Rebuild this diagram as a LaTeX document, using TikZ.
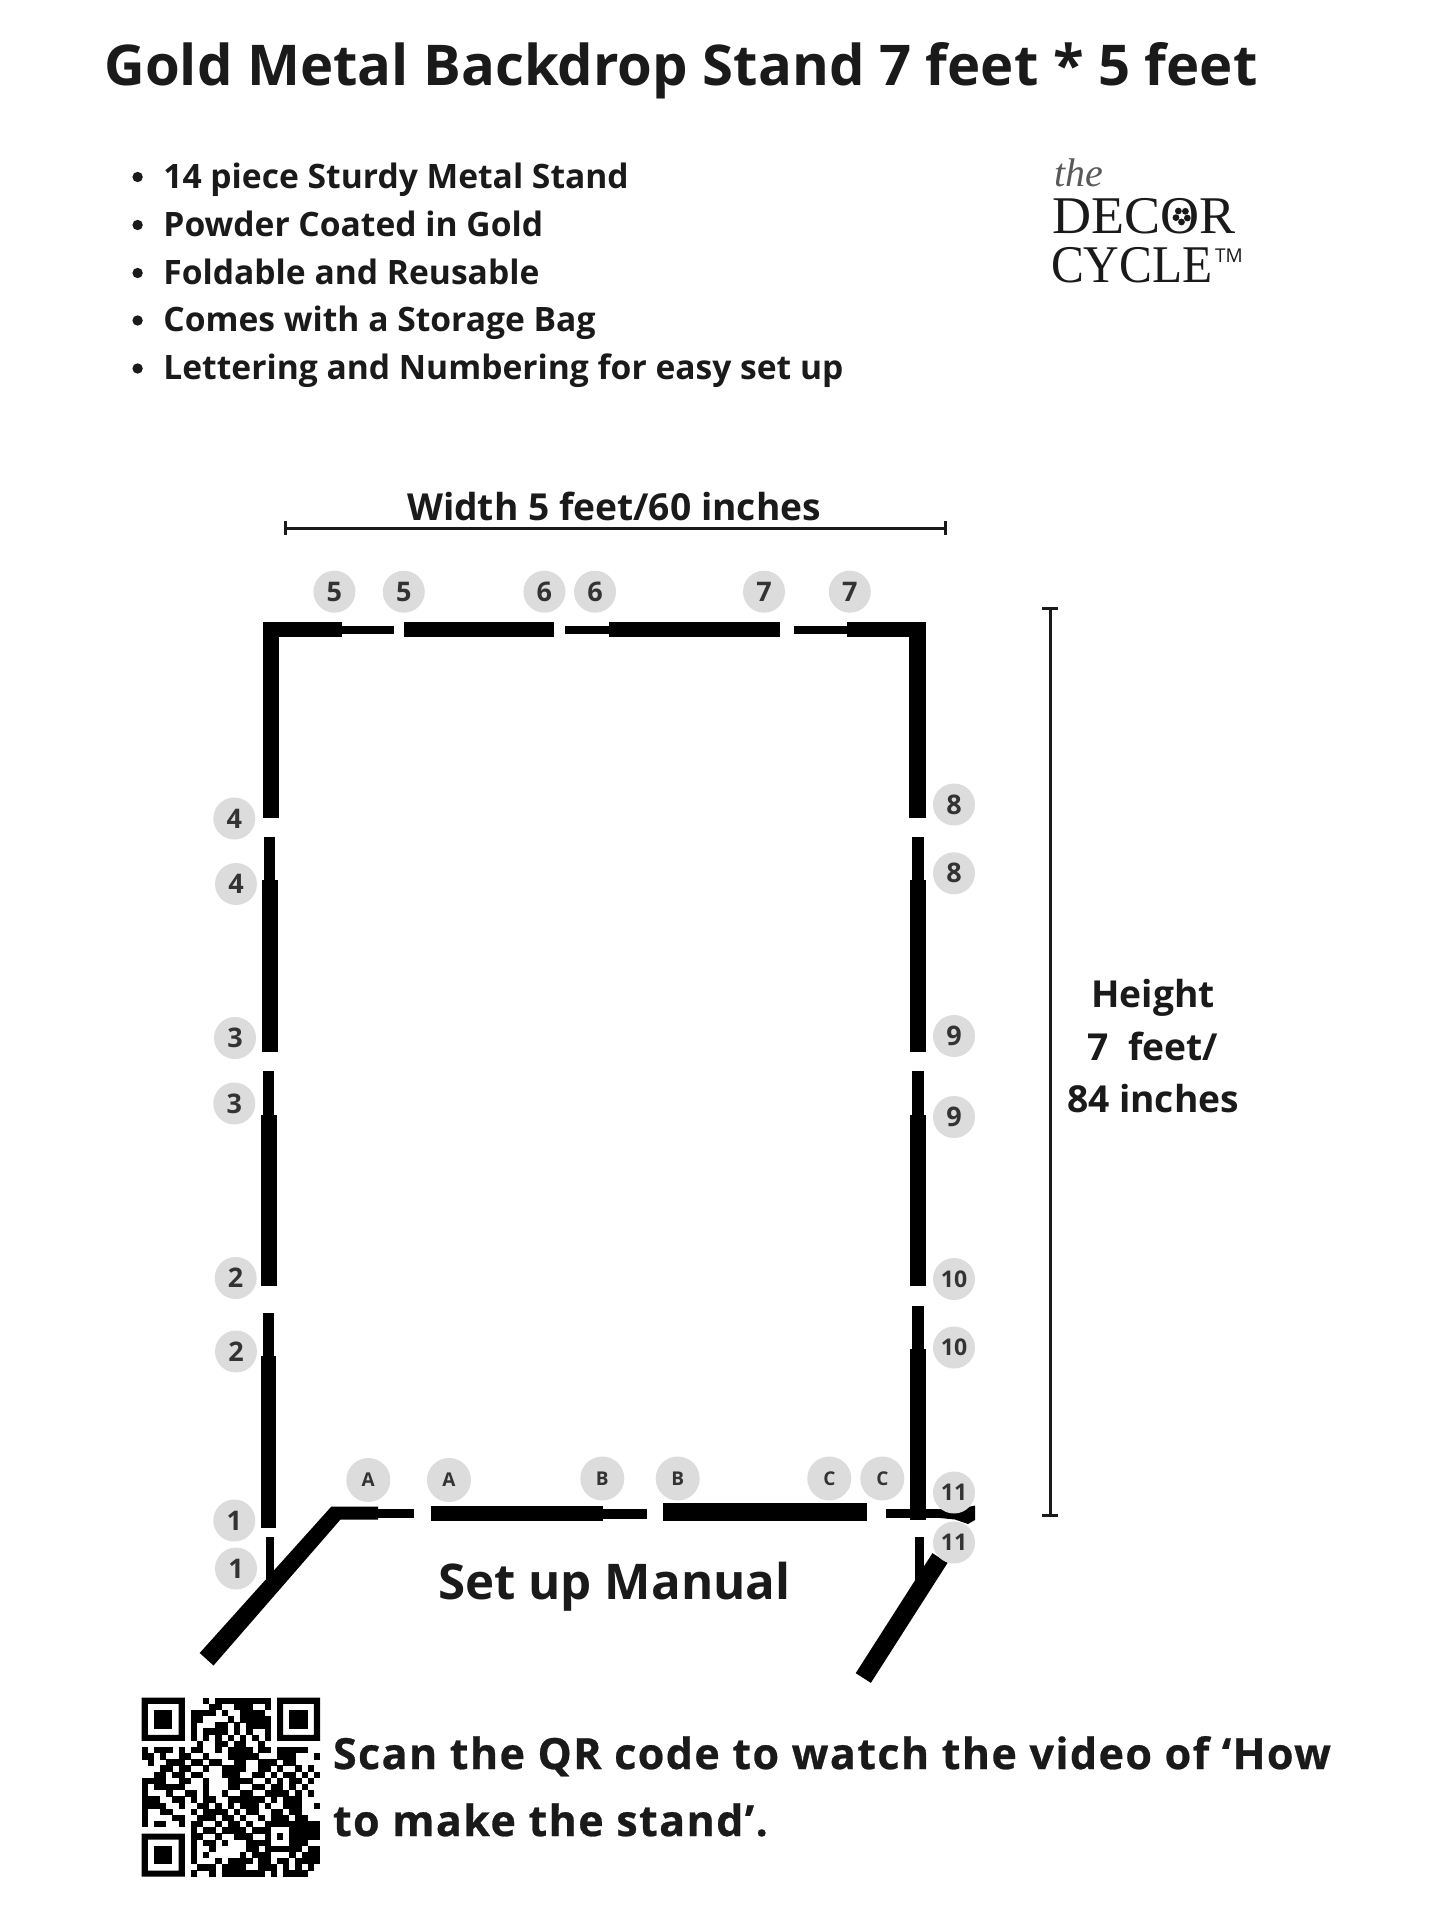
\documentclass[tikz,border=0pt]{standalone}
\usepackage{fontspec}
\setmainfont{Open Sans}
\newfontfamily\logofont{Liberation Serif}
\usetikzlibrary{calc}
\definecolor{ink}{HTML}{1A1A1A}
\definecolor{badgegray}{HTML}{DCDCDC}
\definecolor{badgeink}{HTML}{333333}
\tikzset{
  txt/.style={inner sep=0pt,outer sep=0pt,text=ink,font=\bfseries},
  badge/.style={circle,fill=badgegray,inner sep=0pt,minimum size=21pt,text=badgeink,font=\bfseries\fontsize{13.5}{14}\selectfont},
  badgeS/.style={badge,font=\bfseries\fontsize{11.5}{12}\selectfont},
  badgeL/.style={badge,minimum size=22pt,font=\bfseries\fontsize{9.5}{10}\selectfont},
  dim/.style={line width=1.5pt,draw=ink},
  bar/.style={fill=black},
  logo/.style={inner sep=0pt,outer sep=0pt,text=ink},
  bigtxt/.style={txt,font=\bfseries\fontsize{18.6}{20}\selectfont}
}
\newcommand{\seg}[4]{\fill[bar] (#1,#2) rectangle (#3,#4);}
\newcommand{\qrrow}[2]{\foreach \c in {#2} {\fill[black] ($(141.7,1697.7)+(\c*6.15-0.1,#1*6.17-0.1)$) rectangle ++(6.35,6.37);}}
\newcommand{\qrfinder}[2]{%
  \fill[black,even odd rule] (#1,#2) rectangle ++(43.05,43.2) ($(#1,#2)+(6.15,6.17)$) rectangle ++(30.75,30.86);
  \fill[black] ($(#1,#2)+(12.3,12.34)$) rectangle ++(18.45,18.5);}
\begin{document}
\begin{tikzpicture}[x=0.5pt,y=-0.5pt]
\useasboundingbox (0,0) rectangle (1445,1927);
\fill[white] (0,0) rectangle (1445,1927);

% title
\node[txt,anchor=base west,font=\bfseries\fontsize{28.1}{30}\selectfont] (title) at (104.5,85) {Gold Metal Backdrop Stand 7 feet * 5 feet};

% bullets
\foreach \n/\y/\t in {a/188/14 piece Sturdy Metal Stand,b/236/Powder Coated in Gold,c/284/Foldable and Reusable,d/331.5/Comes with a Storage Bag,e/379.5/Lettering and Numbering for easy set up}{
  \fill[ink] (137.6,\y-11) circle[radius=2.6pt];
  \node[txt,anchor=base west,font=\bfseries\fontsize{16.8}{18}\selectfont] (bul\n) at (163.4,\y) {\t};
}

% logo
\node[logo,anchor=base west,font=\logofont\itshape\fontsize{20}{22}\selectfont,text=black!65] (logothe) at (1054,186) {the};
\node[logo,anchor=base west,font=\logofont\fontsize{26.5}{28}\selectfont] (logodecor) at (1052,233) {\scalebox{1.02}[1]{DECOR}};
\node[logo,anchor=base west,font=\logofont\fontsize{26.5}{28}\selectfont] (logocycle) at (1051,282) {\scalebox{0.93}[1]{CYCLE}};
\node[logo,anchor=base west,font=\fontsize{9.5}{10}\selectfont] (logotm) at (1215,262) {TM};
\foreach \a in {20,92,164,236,308}{\fill[ink] (1181.7,216)+(\a:6) circle[radius=1.7pt];}

% dimensions
\coordinate (wl) at (285,528);
\coordinate (wr) at (945,528);
\draw[dim] (wl) -- (wr);
\draw[dim] ($(wl)+(0,-7)$) -- ($(wl)+(0,7)$);
\draw[dim] ($(wr)+(0,-7)$) -- ($(wr)+(0,7)$);
\node[bigtxt] (wtext) at (614,506) {Width 5 feet/60 inches};
\coordinate (ht) at (1050,608);
\coordinate (hb) at (1050,1515);
\draw[dim] (ht) -- (hb);
\draw[dim] ($(ht)+(-8,0)$) -- ($(ht)+(8,0)$);
\draw[dim] ($(hb)+(-8,0)$) -- ($(hb)+(8,0)$);
\node[bigtxt,anchor=base] (h1) at (1153,1007.5) {Height};
\node[bigtxt,anchor=base] (h2) at (1153,1060) {7\ \ feet/};
\node[bigtxt,anchor=base] (h3) at (1153,1112.5) {84 inches};

% top bar
\seg{262.5}{621.7}{341.5}{637.3}
\seg{341.5}{625.7}{394}{634.3}
\seg{404}{621.7}{554}{637.3}
\seg{565}{625.7}{609}{634.3}
\seg{609}{621.7}{779.5}{637.3}
\seg{793.6}{625.7}{846.5}{634.3}
\seg{846.5}{621.7}{925}{637.3}
% left column
\seg{262.5}{621.7}{278.5}{817.7}
\seg{263.7}{836.7}{275}{880}
\seg{262}{880}{277.7}{1052}
\seg{263.3}{1071}{274}{1115}
\seg{260.5}{1115}{276.7}{1286}
\seg{263}{1313}{274}{1356}
\seg{261}{1356}{276}{1527.5}
\seg{266}{1536.7}{274}{1585}
% right column
\seg{909.3}{621.7}{925.5}{817.7}
\seg{912.3}{836.7}{924}{880}
\seg{910}{880}{926}{1052}
\seg{912.3}{1071}{924}{1115}
\seg{910}{1115}{926}{1286}
\seg{912.3}{1305.7}{924}{1349}
\seg{910}{1349}{926}{1520}
\seg{915}{1537.3}{924}{1590}
% bottom bar
\fill[bar] (199.7,1653) -- (331.2,1506.7) -- (378,1506.7) -- (378,1519.5) -- (340.5,1519.5) -- (213.5,1665.5) -- cycle;
\seg{378}{1508.7}{414.3}{1517.7}
\seg{430.7}{1506}{603.3}{1521}
\seg{603.3}{1509}{646.7}{1519}
\seg{663.3}{1503.3}{866.7}{1521}
\seg{886}{1509}{945}{1517.7}
\fill[bar] (940,1509) -- (968,1507) -- (975,1505.5) -- (975,1520) -- (968,1524) -- (955,1519.5) -- (940,1518) -- cycle;
% right leg
\draw[line width=9pt,black] (863.3,1678) -- (940,1558);

% badges
\foreach \n/\x/\y/\t in {t1/334.4/591.7/5,t2/403.8/591.7/5,t3/544.4/591.7/6,t4/595/591.7/6,t5/764/591.7/7,t6/849.8/591.7/7,
  l1/234.3/818.5/4,l2/236/884/4,l3/235/1038/3,l4/234.3/1103.5/3,l5/235.7/1278/2,l6/236/1351.5/2,l7/234.3/1520.5/1,l8/236/1568.5/1,
  r1/954/804.5/8,r2/954/873.3/8,r3/954/1036/9,r4/954/1117/9}{
  \node[badge] (b\n) at (\x,\y) {\t};
}
\foreach \n/\x/\y/\t in {r5/954/1279/10,r6/954/1347.5/10,r7/954/1492.5/11,r8/954/1542.5/11}{
  \node[badgeS] (b\n) at (\x,\y) {\t};
}
\foreach \n/\x/\y/\t in {a1/368.3/1480/A,a2/449/1480/A,b1/602.3/1478.5/B,b2/677.7/1478.5/B,c1/829.3/1478.5/C,c2/882.3/1478.5/C}{
  \node[badgeL] (b\n) at (\x,\y) {\t};
}

% manual
\node[txt,font=\bfseries\fontsize{24.6}{26}\selectfont] (manual) at (614.4,1587) {Set up Manual};

% QR
\qrfinder{141.7}{1697.7}
\qrfinder{277}{1697.7}
\qrfinder{141.7}{1833.5}
\qrrow{0}{10,12,13,14,15,16,17,18,19,20}
\qrrow{1}{11,12,15,16,17,20}
\qrrow{2}{8,9,10,11,13,16,17,18,19}
\qrrow{3}{8,9,14,16,17,18,19,20}
\qrrow{4}{8,12,13,15,17,18,19,20}
\qrrow{5}{8,10,11,12,13,15,17,20}
\qrrow{6}{8,10,12,14,16,18,20}
\qrrow{7}{9,12,13,15,16,19}
\qrrow{8}{0,2,3,4,6,8,9,12,14,15,16,17,19,20,22,23,24,25,26}
\qrrow{9}{0,1,3,6,7,10,14,15,16,17,18,22,23,24,28}
\qrrow{10}{1,4,5,6,8,9,11,12,15,16,19,20,21,23,24}
\qrrow{11}{3,4,6,7,10,13,14,15,16,19,20,22,25,27}
\qrrow{12}{2,3,5,6,8,9,13,14,15,18,19,21,23,24,26,28}
\qrrow{13}{0,1,2,3,6,7,10,14,15,16,17,20,22,24,25,27}
\qrrow{14}{0,2,3,4,5,6,10,14,15,18,19,21,22,24,26}
\qrrow{15}{0,4,7,8,10,13,16,17,20,21,22,23,25,27}
\qrrow{16}{0,1,2,5,6,8,10,11,14,15,16,17,18,19,21,23,24,25}
\qrrow{17}{0,1,2,3,6,9,10,12,14,16,17,18,20,23,24,25,28}
\qrrow{18}{0,3,4,8,10,11,12,13,15,17,18,21,22,24,25}
\qrrow{19}{0,5,6,9,10,11,13,14,16,19,21,22,23,25,26}
\qrrow{20}{0,2,3,6,8,9,12,14,15,17,20,22,23,25,26,27,28}
\qrrow{21}{8,10,11,13,14,15,16,18,19,24,25,26,27,28}
\qrrow{22}{8,9,12,15,16,17,20,21,25,26,27,28}
\qrrow{23}{8,10,11,13,17,18,19,20,21,25,26}
\qrrow{24}{8,11,17,18,20,21,22,23,24,25,27,28}
\qrrow{25}{8,10,16,18,19,20,24,26,27,28}
\qrrow{26}{8,12,14,15,16,17,19,20,22,23,25,26,27,28}
\qrrow{27}{9,10,11,13,14,15,16,19,20,21,23,25,27}
\qrrow{28}{8,11,13,14,15,16,17,18,19,21,23,24,25,26}
\fill[black] ($(141.7,1697.7)+(20*6.15,20*6.17)$) rectangle ++(30.75,30.85);
\fill[white] ($(141.7,1697.7)+(21*6.15,21*6.17)$) rectangle ++(18.45,18.5);
\fill[black] ($(141.7,1697.7)+(22*6.15,22*6.17)$) rectangle ++(6.15,6.17);

% QR text
\node[txt,anchor=base west,font=\bfseries\addfontfeature{FakeBold=0.6,LetterSpace=3.3}\fontsize{21.5}{24}\selectfont] (scan1) at (333,1769) {Scan the QR code to watch the video of ‘How};
\node[txt,anchor=base west,font=\bfseries\addfontfeature{FakeBold=0.6,LetterSpace=3.3}\fontsize{21.5}{24}\selectfont] (scan2) at (333,1836) {to make the stand’.};
\end{tikzpicture}
\end{document}
